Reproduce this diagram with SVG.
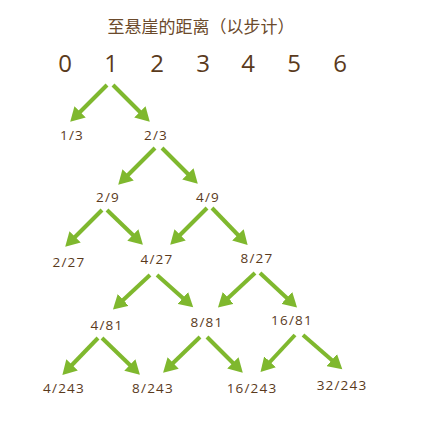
<svg xmlns="http://www.w3.org/2000/svg" width="432" height="432" viewBox="0 0 432 432">
<style>
.t{font-family:"Noto Sans CJK SC","Noto Sans",sans-serif;font-size:17px;fill:#6b4a2b}
.d{font-family:"Open Sans","Noto Sans",sans-serif;font-size:24px;fill:#5a3a1c;text-anchor:middle}
.n{font-family:"Open Sans","Noto Sans",sans-serif;font-size:13.5px;letter-spacing:1.2px;fill:#5a3a1c;text-anchor:middle}
.a{stroke:#7fb82e;stroke-width:4;fill:none;marker-end:url(#h)}
</style>
<defs>
<marker id="h" markerUnits="userSpaceOnUse" markerWidth="15" markerHeight="16" refX="3" refY="8" orient="auto">
<path d="M0,0 L14,8 L0,16 z" fill="#7fb82e"/>
</marker>
</defs>
<rect width="432" height="432" fill="#fff"/>
<g id="title"><text class="t" x="201" y="33" text-anchor="middle">至悬崖的距离（以步计）</text></g>
<g id="scale">
<text class="d" x="65" y="72">0</text>
<text class="d" x="111" y="72">1</text>
<text class="d" x="157" y="72">2</text>
<text class="d" x="203" y="72">3</text>
<text class="d" x="248" y="72">4</text>
<text class="d" x="294" y="72">5</text>
<text class="d" x="340" y="72">6</text>
</g>
<g id="connectors">
<line class="a" x1="107" y1="85" x2="78" y2="114"/>
<line class="a" x1="113" y1="85" x2="142" y2="114"/>
<line class="a" x1="155" y1="148" x2="126" y2="177"/>
<line class="a" x1="162" y1="148" x2="190" y2="176"/>
<line class="a" x1="102" y1="210" x2="73" y2="239"/>
<line class="a" x1="107" y1="210" x2="135" y2="237"/>
<line class="a" x1="207" y1="208" x2="178" y2="237"/>
<line class="a" x1="212" y1="208" x2="240" y2="237"/>
<line class="a" x1="150" y1="275" x2="121" y2="302"/>
<line class="a" x1="157" y1="275" x2="185" y2="300"/>
<line class="a" x1="255" y1="273" x2="226" y2="300"/>
<line class="a" x1="260" y1="273" x2="289" y2="300"/>
<line class="a" x1="98" y1="338" x2="70" y2="367"/>
<line class="a" x1="102" y1="338" x2="132" y2="367"/>
<line class="a" x1="200" y1="337" x2="171" y2="365"/>
<line class="a" x1="207" y1="337" x2="235" y2="365"/>
<line class="a" x1="295" y1="335" x2="268" y2="364"/>
<line class="a" x1="303" y1="335" x2="334" y2="362"/>
</g>
<g id="n1_3"><text class="n" x="72" y="140">1/3</text></g>
<g id="n2_3"><text class="n" x="156" y="140">2/3</text></g>
<g id="n2_9"><text class="n" x="108" y="202">2/9</text></g>
<g id="n4_9"><text class="n" x="208" y="202">4/9</text></g>
<g id="n2_27"><text class="n" x="69" y="267">2/27</text></g>
<g id="n4_27"><text class="n" x="157" y="264">4/27</text></g>
<g id="n8_27"><text class="n" x="257" y="263">8/27</text></g>
<g id="n4_81"><text class="n" x="107" y="330">4/81</text></g>
<g id="n8_81"><text class="n" x="207" y="327">8/81</text></g>
<g id="n16_81"><text class="n" x="292" y="325">16/81</text></g>
<g id="n4_243"><text class="n" x="64" y="393">4/243</text></g>
<g id="n8_243"><text class="n" x="153" y="393">8/243</text></g>
<g id="n16_243"><text class="n" x="252" y="393">16/243</text></g>
<g id="n32_243"><text class="n" x="342" y="390">32/243</text></g>
</svg>
